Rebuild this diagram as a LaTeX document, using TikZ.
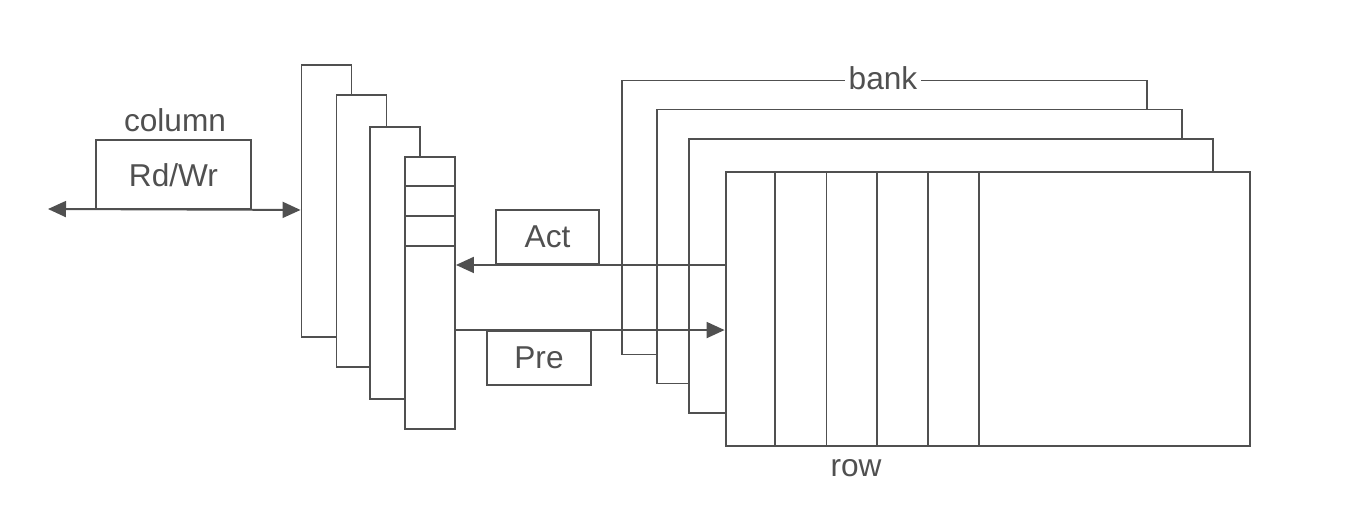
\documentclass[tikz,border=0pt]{standalone}
\usepackage{fontspec}
\setmainfont{Liberation Sans}
\usetikzlibrary{arrows.meta}
\definecolor{ink}{HTML}{505050}
\begin{document}
\begin{tikzpicture}[x=0.02cm,y=-0.02cm,
  every node/.style={font=\fontsize{18}{20}\selectfont, text=ink},
  panel/.style={draw=ink, line width=1.1pt, fill=white, minimum width=1.0cm, minimum height=5.44cm, inner sep=0pt},
  bankbox/.style={draw=ink, line width=1.1pt, fill=white, minimum width=10.5cm, minimum height=5.48cm, inner sep=0pt},
  cmdbox/.style={draw=ink, line width=1.1pt, fill=white, inner sep=0pt},
  lbl/.style={inner sep=2pt},
  wire/.style={draw=ink, line width=1.1pt},
  arr/.style={wire, -{Triangle[length=0.36cm,width=0.32cm]}},
  darr/.style={wire, {Triangle[length=0.36cm,width=0.32cm]}-{Triangle[length=0.36cm,width=0.32cm]}}
]
\useasboundingbox (0,0) rectangle (1352,518);
\fill[white] (0,0) rectangle (1352,518);

% column buffers (back to front)
\node[panel] (p1) at (326.5,201) {};
\node[panel] (p2) at (361.5,231) {};
\node[panel] (p3) at (395,263) {};
\node[panel] (p4) at (430,293) {};
\draw[wire] (p4.west |- 0,186) -- (p4.east |- 0,186);
\draw[wire] (p4.west |- 0,216) -- (p4.east |- 0,216);
\draw[wire] (p4.west |- 0,246) -- (p4.east |- 0,246);

% banks (back to front)
\node[bankbox] (f1) at (884.5,217.5) {};
\node[bankbox] (f2) at (919.5,246.5) {};
\node[bankbox] (f3) at (951,276) {};
\node[bankbox] (main) at (988,309) {};
\foreach \x in {775,826.5,877,928,979}
  \draw[wire] (\x,0 |- main.north) -- (\x,0 |- main.south);

\node[lbl, fill=white] (bank) at (883,78) {bank};
\node[lbl] (row) at (856,468) {row};

% Rd/Wr
\node[cmdbox, minimum width=3.1cm, minimum height=1.38cm] (rdwr) at (173.5,174.5) {};
\node[lbl] (rdwrt) at (173.5,175) {Rd/Wr};
\node[lbl] (column) at (175,120) {column};
\coordinate (ext) at (48,209);
\draw[darr] (ext) -- (p1.west |- rdwr.south);

% Act / Pre
\node[cmdbox, minimum width=2.06cm, minimum height=1.08cm] (act) at (547.5,237) {};
\node[lbl] (actt) at (547.5,237) {Act};
\node[cmdbox, minimum width=2.08cm, minimum height=1.08cm] (pre) at (539,358) {};
\node[lbl] (pret) at (539,358) {Pre};
\draw[arr] (main.west |- act.south) -- (p4.east |- act.south);
\draw[arr] (p4.east |- pre.north) -- (main.west |- pre.north);
\end{tikzpicture}
\end{document}
